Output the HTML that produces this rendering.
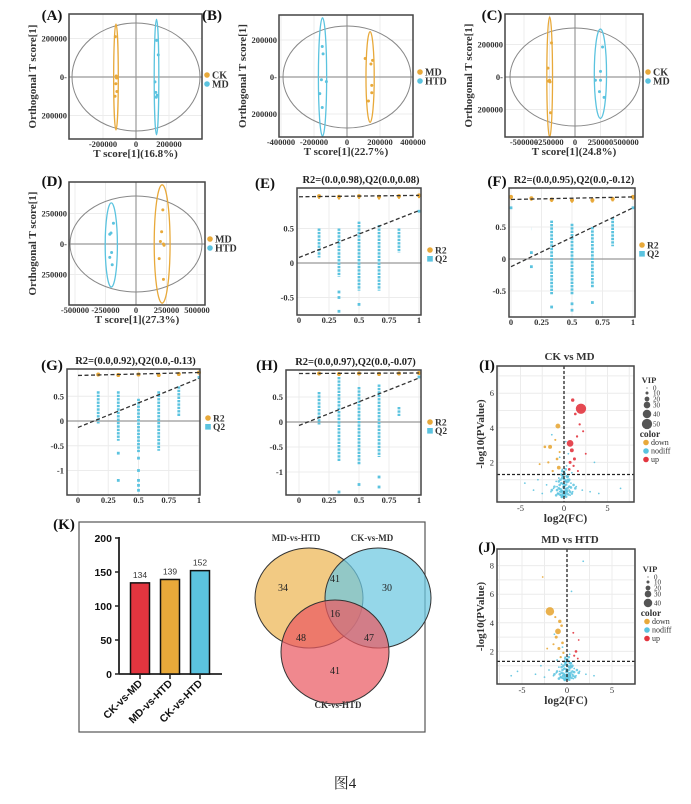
<!DOCTYPE html>
<html><head><meta charset="utf-8">
<style>
html,body{margin:0;padding:0;background:#fff;}
svg{display:block;font-family:"Liberation Serif","Noto Serif CJK SC",serif;}
</style></head>
<body>
<svg id="fig" width="691" height="804" viewBox="0 0 691 804" xmlns="http://www.w3.org/2000/svg">
<rect x="0" y="0" width="691" height="804" fill="#fff"/>
<text x="345" y="788" font-size="15" text-anchor="middle" fill="#222" font-family="Liberation Serif, Noto Serif CJK SC, serif">图4</text>
</svg>
<script>
// ---------- PCA data ----------
const pcaA_g1x=[-125000,-120000,-118000,-122000,-116000,-127000];
const pcaA_g1y=[210000,5000,-5000,-35000,-75000,-100000];
const pcaA_g2x=[125000,135000,115000,120000,128000,123000];
const pcaA_g2y=[190000,115000,-25000,-80000,-95000,-105000];
const pcaB_g1x=[110000,155000,145000,150000,150000,130000];
const pcaB_g1y=[100000,90000,70000,-45000,-85000,-130000];
const pcaB_g2x=[-150000,-145000,-155000,-125000,-165000,-150000];
const pcaB_g2y=[165000,125000,-15000,-25000,-90000,-165000];
const pcaC_g1x=[-230000,-265000,-250000,-260000,-245000,-240000];
const pcaC_g1y=[210000,55000,-20000,-25000,-30000,-220000];
const pcaC_g2x=[270000,250000,200000,250000,240000,285000];
const pcaC_g2y=[185000,35000,-20000,-20000,-90000,-125000];
const pcaD_g1x=[220000,210000,200000,225000,230000,190000,225000];
const pcaD_g1y=[280000,100000,20000,0,-10000,-120000,-290000];
const pcaD_g2x=[-185000,-215000,-205000,-200000,-215000,-195000];
const pcaD_g2y=[170000,80000,90000,-70000,-110000,-170000];

// ---------- permutation data ----------
const permCols=[0.167,0.333,0.5,0.667,0.833];
const permE_top=[0.5,0.5,0.6,0.55,0.5], permE_bot=[0.08,-0.2,-0.4,-0.4,0.15];
const permE_outX=[0.333,0.333,0.333,0.5,1], permE_outY=[-0.42,-0.5,-0.7,-0.6,0.75];
const permE_r2X=[0.167,0.333,0.5,0.667,0.833,1], permE_r2Y=[0.97,0.96,0.97,0.96,0.97,0.98];
const permE_r2Line=[0.96,0.98], permE_q2Line=[0.08,0.76];
const permF_top=[0.47,0.6,0.55,0.5,0.65], permF_bot=[0.47,-0.55,-0.55,-0.45,0.2];
const permF_outX=[0,0.167,0.167,0.333,0.5,0.5,0.667,1], permF_outY=[0.8,0.1,-0.12,-0.75,-0.7,-0.8,-0.68,0.8];
const permF_r2X=[0,0.167,0.333,0.5,0.667,0.833,1], permF_r2Y=[0.97,0.95,0.93,0.92,0.92,0.94,0.97];
const permF_r2Line=[0.93,0.97], permF_q2Line=[-0.12,0.8];
const permG_top=[0.6,0.6,0.45,0.6,0.7], permG_bot=[-0.05,-0.4,-0.65,-0.6,0.1];
const permG_outX=[0.333,0.333,0.5,0.5,0.5,0.5,0.5,1], permG_outY=[-0.65,-1.2,-0.75,-1.0,-1.2,-1.3,-1.4,0.88];
const permG_r2X=[0.167,0.333,0.5,0.667,0.833,1], permG_r2Y=[0.94,0.93,0.94,0.93,0.95,0.98];
const permG_r2Line=[0.92,0.98], permG_q2Line=[-0.13,0.86];
const permH_top=[0.6,0.9,0.7,0.75,0.3], permH_bot=[-0.05,-0.8,-0.85,-0.7,0.12];
const permH_outX=[0.333,0.5,0.667,0.667,1], permH_outY=[-1.4,-1.25,-1.1,-1.3,0.9];
const permH_r2X=[0.167,0.333,0.5,0.667,0.833,1], permH_r2Y=[0.97,0.96,0.97,0.96,0.97,0.98];
const permH_r2Line=[0.97,0.98], permH_q2Line=[-0.07,0.88];

// ---------- volcano data (x=log2FC, y=-log10P, c: 0 down 1 nodiff 2 up, v: VIP) ----------
const volI_x=[1.95,0.7,1.0,1.3,1.8,0.9,1.2,0.7,1.5,2.2,0.6,1.1,2.5,1.6,-0.7,-1.6,-2.2,-0.8,-1.8,-0.6,-1.3,-2.8,-1.0,-0.5,-0.5,0.2,-0.3,0.4,-0.8,0.6,-0.2,0.1,-0.6,0.3,-1.2,1.0,-0.4,0.5,-0.9,0.8,-0.1,0.0,-1.5,1.4,-0.7,0.2,-0.3,0.7,-2.0,2.1,-0.1,0.4,-2.5,3.0,-3.5,4.0,6.5,-4.5,0.9,-1.1,-0.2,0.3,-0.5,0.5,-1.4,0.2,-0.3,0.1,3.5,-3.0];
const volI_y=[5.1,3.1,5.6,4.8,4.2,2.7,2.2,2.0,3.5,3.8,1.6,1.8,2.5,1.5,4.1,2.9,2.9,2.2,2.0,1.7,1.5,1.9,3.3,2.6,0.3,0.5,0.8,1.0,0.6,0.4,1.2,0.2,1.1,0.7,0.5,0.3,0.1,1.2,0.9,0.8,0.6,1.0,0.3,0.6,0.2,0.9,0.4,0.1,0.7,0.4,0.1,0.3,0.2,0.3,0.4,0.2,0.5,0.8,1.4,1.3,1.6,1.8,2.3,2.5,3.6,3.2,0.0,0.05,2.0,1.0];
const volI_c=[2,2,2,2,2,2,2,2,2,2,2,2,2,2,0,0,0,0,0,0,0,0,0,0,1,1,1,1,1,1,1,1,1,1,1,1,1,1,1,1,1,1,1,1,1,1,1,1,1,1,1,1,1,1,1,1,1,1,1,1,1,1,1,1,1,1,1,1,1,1];
const volI_v=[50,30,12,8,6,15,10,10,6,5,8,6,4,5,20,15,8,8,6,14,6,4,5,5,3,3,3,3,3,3,3,3,3,3,3,3,3,3,3,3,3,3,3,3,3,3,3,3,3,3,3,3,3,3,3,3,3,3,3,3,3,3,3,3,3,3,3,3,3,3];
const volJ_x=[-1.9,-0.8,-1.0,-0.6,-1.2,-0.5,-0.9,-1.5,-0.4,-2.2,-2.7,-1.3,-0.7,1.0,0.7,1.3,0.8,1.2,1.8,0.5,-0.5,0.2,-0.3,0.4,-0.8,0.6,-0.2,0.1,-0.6,0.3,-1.2,1.0,-0.4,0.5,-0.9,0.8,-0.1,0.0,-1.5,1.4,-0.7,0.2,-0.3,0.7,-2.0,2.1,-0.1,0.4,-2.5,3.0,-3.5,-5.5,-1.1,-0.2,0.3,-0.5,-1.4,-0.3,0.1,-2.9,-6.2];
const volJ_y=[4.8,4.1,3.4,3.8,3.0,2.6,2.2,2.5,1.9,2.2,7.2,4.4,1.6,2.0,3.3,2.8,1.7,1.5,8.3,6.2,0.3,0.5,0.8,1.0,0.6,0.4,1.2,0.2,1.1,0.7,0.5,0.3,0.1,1.2,0.9,0.8,0.6,1.0,0.3,0.6,0.2,0.9,0.4,0.1,0.7,0.4,0.1,0.3,0.2,0.3,0.4,0.6,1.4,1.6,1.8,2.3,3.2,0.0,0.05,1.0,0.3];
const volJ_c=[0,0,0,0,0,0,0,0,0,0,0,0,0,2,2,2,2,2,1,1,1,1,1,1,1,1,1,1,1,1,1,1,1,1,1,1,1,1,1,1,1,1,1,1,1,1,1,1,1,1,1,1,1,1,1,1,1,1,1,1,1];
const volJ_v=[40,12,25,8,10,8,10,5,6,4,3,5,6,8,4,3,5,4,3,3,3,3,3,3,3,3,3,3,3,3,3,3,3,3,3,3,3,3,3,3,3,3,3,3,3,3,3,3,3,3,3,3,3,3,3,3,3,3,3,3,3];
// dense non-differential cloud near origin
const volCloud_x=[-0.9,-0.7,-0.5,-0.3,-0.1,0.1,0.3,0.5,0.7,0.9,-0.8,-0.6,-0.4,-0.2,0,0.2,0.4,0.6,0.8,-0.5,-0.3,-0.1,0.1,0.3,0.5,-0.4,-0.2,0,0.2,0.4,-0.3,-0.1,0.1,0.3,-0.2,0,0.2,-0.6,0.6,-1.1,1.1,-1.4,1.3,-0.15,0.15,-0.05,0.05,-0.35,0.35,-0.25,0.25];
const volCloud_y=[0.1,0.2,0.15,0.1,0.05,0.1,0.2,0.15,0.3,0.2,0.4,0.5,0.45,0.35,0.3,0.4,0.5,0.6,0.55,0.7,0.8,0.75,0.7,0.85,0.9,1.0,1.1,1.05,0.95,1.15,1.3,1.25,1.35,1.2,1.5,1.45,1.6,0.9,1.0,0.6,0.7,0.4,0.5,0.2,0.25,0.55,0.65,0.3,0.35,0.0,0.02];

// ---------- bar + venn ----------
const barCats=["CK-vs-MD","MD-vs-HTD","CK-vs-HTD"];
const barVals=[134,139,152];
const barTicks=[0,50,100,150,200];
const vennSets=["MD-vs-HTD","CK-vs-MD","CK-vs-HTD"];
const vennCounts=[34,41,30,16,48,47,41];

const NS="http://www.w3.org/2000/svg";
const svg=document.getElementById('fig');
const ORANGE="#E8A93A", CYAN="#5BC3DF", RED="#E2353F";
function mk(p,tag,a){const e=document.createElementNS(NS,tag);for(const k in a)e.setAttribute(k,a[k]);p.appendChild(e);return e;}
function T(p,x,y,s,size,o){o=o||{};const e=mk(p,'text',{x:x,y:y,'font-size':size,'text-anchor':o.anchor||'middle','font-weight':o.w||'bold',fill:o.fill||'#333'});if(o.rot)e.setAttribute('transform','rotate('+o.rot+' '+x+' '+y+')');if(o.font)e.setAttribute('font-family',o.font);e.textContent=s;return e;}

function label(x,y,s){const e=T(svg,x,y,s,15,{fill:'#111'});

}

// ---------- PCA ----------
function pca(c){
 const g=mk(svg,'g',{});
 
 
 const X=v=>c.ox+v*c.sx, Y=v=>c.oy-v*c.sy;
 const fr=mk(g,'rect',{x:c.x0,y:c.y0,width:c.x1-c.x0,height:c.y1-c.y0,fill:'#fff',stroke:'none'});
 
 
 for(const t of c.xt){mk(g,'line',{x1:X(t),x2:X(t),y1:c.y0,y2:c.y1,stroke:'#ececec','stroke-width':1});}
 for(const t of c.yt){mk(g,'line',{x1:c.x0,x2:c.x1,y1:Y(t),y2:Y(t),stroke:'#ececec','stroke-width':1});}
 mk(g,'line',{x1:c.x0,x2:c.x1,y1:Y(0),y2:Y(0),stroke:'#999','stroke-width':1.2});
 mk(g,'line',{x1:X(0),x2:X(0),y1:c.y0,y2:c.y1,stroke:'#999','stroke-width':1.2});
 const ci=mk(g,'ellipse',{cx:c.cx,cy:c.cy,rx:c.rx,ry:c.ry,fill:'none',stroke:'#888','stroke-width':1});
 
 
 c.groups.forEach((gr,i)=>{
  const col=gr.col;
  const mx=gr.x.reduce((a,b)=>a+b,0)/gr.x.length;
  const e=mk(g,'ellipse',{cx:X(mx),cy:Y(gr.ey),rx:gr.hw*c.sx,ry:gr.hh*c.sy,fill:'none',stroke:col,'stroke-width':1.3});
  
  
  gr.x.forEach((v,j)=>{const p=mk(g,'circle',{cx:X(v),cy:Y(gr.y[j]),r:1.5,fill:col});
   
   });
  const lg=mk(g,'circle',{cx:c.lx,cy:c.ly+i*9,r:2.8,fill:col});
  
  
  const lt=T(g,c.lx+5,c.ly+i*9+3.5,gr.n,10,{anchor:'start',fill:'#333'});
  
  
 });
 const b=mk(g,'rect',{x:c.x0,y:c.y0,width:c.x1-c.x0,height:c.y1-c.y0,fill:'none',stroke:'#444','stroke-width':1.5});
 
 
 for(const t of c.xt){const l=T(g,X(t),c.y1+8,String(t),8.5,{fill:'#333'});
  
  }
 for(const t of c.yt){const l=T(g,c.x0-2,Y(t)+3,t===0?'0-':String(Math.abs(t)),8.5,{anchor:'end',fill:'#333'});
  
  }
 const xt=T(g,(c.x0+c.x1)/2,c.y1+18,c.xtitle,11,{fill:'#333'});
 
 
 const yt=T(g,c.x0-33,(c.y0+c.y1)/2,'Orthogonal T score[1]',11,{rot:-90,fill:'#333'});
 
 
}
pca({name:'panel-a-opls-da',x0:69,x1:202,y0:14,y1:139,ox:136,oy:77,sx:33/200000,sy:38.5/200000,cx:136,cy:77,rx:64,ry:54,
 xt:[-200000,0,200000],yt:[200000,0,-200000],xtitle:'T score[1](16.8%)',lx:207,ly:75,
 groups:[{n:'CK',col:ORANGE,x:pcaA_g1x,y:pcaA_g1y,ey:0,hw:14000,hh:275000},{n:'MD',col:CYAN,x:pcaA_g2x,y:pcaA_g2y,ey:0,hw:14000,hh:300000}]});
pca({name:'panel-b-opls-da',x0:279,x1:413,y0:15,y1:137,ox:347,oy:77,sx:33/200000,sy:37/200000,cx:347,cy:77,rx:64,ry:51,
 xt:[-400000,-200000,0,200000,400000],yt:[200000,0,-200000],xtitle:'T score[1](22.7%)',lx:420,ly:72,
 groups:[{n:'MD',col:ORANGE,x:pcaB_g1x,y:pcaB_g1y,ey:0,hw:25000,hh:245000},{n:'HTD',col:CYAN,x:pcaB_g2x,y:pcaB_g2y,ey:0,hw:25000,hh:320000}]});
pca({name:'panel-c-opls-da',x0:505,x1:643,y0:14,y1:137,ox:575,oy:77,sx:51/500000,sy:32.5/200000,cx:575,cy:77,rx:65,ry:49,
 xt:[-500000,-250000,0,250000,500000],yt:[200000,0,-200000],xtitle:'T score[1](24.8%)',lx:648,ly:72,
 groups:[{n:'CK',col:ORANGE,x:pcaC_g1x,y:pcaC_g1y,ey:0,hw:28000,hh:370000},{n:'MD',col:CYAN,x:pcaC_g2x,y:pcaC_g2y,ey:20000,hw:60000,hh:275000}]});
pca({name:'panel-d-opls-da',x0:69,x1:205,y0:182,y1:305,ox:136,oy:244,sx:61/500000,sy:30.5/250000,cx:136,cy:244,rx:66,ry:48,
 xt:[-500000,-250000,0,250000,500000],yt:[250000,0,-250000],xtitle:'T score[1](27.3%)',lx:210,ly:239,
 groups:[{n:'MD',col:ORANGE,x:pcaD_g1x,y:pcaD_g1y,ey:0,hw:65000,hh:485000},{n:'HTD',col:CYAN,x:pcaD_g2x,y:pcaD_g2y,ey:-8000,hw:50000,hh:345000}]});
label(52,20,'(A)');label(212,20,'(B)');label(492,20,'(C)');label(52,186,'(D)');

// ---------- permutation ----------
function perm(c){
 const g=mk(svg,'g',{});
 
 
 const X=v=>c.ox+v*c.sx, Y=v=>c.oy-v*c.sy;
 for(const t of [0,0.25,0.5,0.75,1])mk(g,'line',{x1:X(t),x2:X(t),y1:c.y0,y2:c.y1,stroke:'#ececec'});
 for(const t of c.yt)mk(g,'line',{x1:c.x0,x2:c.x1,y1:Y(t),y2:Y(t),stroke:'#ececec'});
 mk(g,'line',{x1:c.x0,x2:c.x1,y1:Y(0),y2:Y(0),stroke:'#999','stroke-width':1.3});
 permCols.forEach((x,i)=>{const l=mk(g,'line',{x1:X(x),x2:X(x),y1:Y(c.top[i]),y2:Y(c.bot[i]),stroke:CYAN,'stroke-width':2.8,'stroke-dasharray':'2.4 1'});
  
  });
 c.ox2.forEach((x,i)=>{const r=mk(g,'rect',{x:X(x)-1.4,y:Y(c.oy2[i])-1.4,width:2.8,height:2.8,fill:CYAN});
  
  });
 c.r2x.forEach((x,i)=>{const p=mk(g,'circle',{cx:X(x),cy:Y(c.r2y[i]),r:2,fill:ORANGE});
  
  
  mk(g,'line',{x1:X(x),x2:X(x),y1:Y(c.r2y[i]),y2:Y(c.r2y[i]-0.04),stroke:ORANGE,'stroke-width':2});});
 const l1=mk(g,'line',{x1:X(0),x2:X(1),y1:Y(c.r2l[0]),y2:Y(c.r2l[1]),stroke:'#333','stroke-width':1.3,'stroke-dasharray':'4 2.5'});
 
 
 const l2=mk(g,'line',{x1:X(0),x2:X(1),y1:Y(c.q2l[0]),y2:Y(c.q2l[1]),stroke:'#333','stroke-width':1.3,'stroke-dasharray':'4 2.5'});
 
 
 const b=mk(g,'rect',{x:c.x0,y:c.y0,width:c.x1-c.x0,height:c.y1-c.y0,fill:'none',stroke:'#444','stroke-width':1.5});
 
 
 for(const t of [0,0.25,0.5,0.75,1]){const l=T(g,X(t),c.y1+8,String(t),8.5,{});
  
  }
 for(const t of c.yt){const l=T(g,c.x0-3,Y(t)+3,String(t),8.5,{anchor:'end'});
  
  }
 const ti=T(g,(c.x0+c.x1)/2+2,c.y0-5,c.title,10.5,{fill:'#222'});
 
 
 const a=mk(g,'circle',{cx:c.lx,cy:c.ly,r:2.8,fill:ORANGE});
 
 
 const at=T(g,c.lx+5,c.ly+3.5,'R2',9.5,{anchor:'start'});
 
 
 const q=mk(g,'rect',{x:c.lx-2.8,y:c.ly+6,width:5.6,height:5.6,fill:CYAN});
 
 
 const qt=T(g,c.lx+5,c.ly+12,'Q2',9.5,{anchor:'start'});
 
 
}
perm({name:'panel-e-permutation',x0:297,x1:421,y0:188,y1:315,ox:299,oy:263,sx:120,sy:69,yt:[0.5,0,-0.5],
 top:permE_top,bot:permE_bot,ox2:permE_outX,oy2:permE_outY,r2x:permE_r2X,r2y:permE_r2Y,r2l:permE_r2Line,q2l:permE_q2Line,
 title:'R2=(0.0,0.98),Q2(0.0,0.08)',lx:430,ly:250});
perm({name:'panel-f-permutation',x0:509,x1:635,y0:188,y1:317,ox:511,oy:259,sx:122,sy:64,yt:[0.5,0,-0.5],
 top:permF_top,bot:permF_bot,ox2:permF_outX,oy2:permF_outY,r2x:permF_r2X,r2y:permF_r2Y,r2l:permF_r2Line,q2l:permF_q2Line,
 title:'R2=(0.0,0.95),Q2(0.0,-0.12)',lx:642,ly:245});
perm({name:'panel-g-permutation',x0:67,x1:200,y0:369,y1:495,ox:78,oy:421,sx:121,sy:49.5,yt:[0.5,0,-0.5,-1],
 top:permG_top,bot:permG_bot,ox2:permG_outX,oy2:permG_outY,r2x:permG_r2X,r2y:permG_r2Y,r2l:permG_r2Line,q2l:permG_q2Line,
 title:'R2=(0.0,0.92),Q2(0.0,-0.13)',lx:208,ly:418});
perm({name:'panel-h-permutation',x0:286,x1:421,y0:370,y1:495,ox:299,oy:422,sx:120,sy:50,yt:[0.5,0,-0.5,-1],
 top:permH_top,bot:permH_bot,ox2:permH_outX,oy2:permH_outY,r2x:permH_r2X,r2y:permH_r2Y,r2l:permH_r2Line,q2l:permH_q2Line,
 title:'R2=(0.0,0.97),Q2(0.0,-0.07)',lx:430,ly:422});
label(265,188,'(E)');label(497,186,'(F)');label(52,370,'(G)');label(267,370,'(H)');

// ---------- volcano ----------
function volcano(c){
 const g=mk(svg,'g',{});
 
 
 const X=v=>c.ox+v*c.sx, Y=v=>c.oy-v*c.sy;
 const cols=[ORANGE,CYAN,RED];
 for(const t of c.xtg)mk(g,'line',{x1:X(t),x2:X(t),y1:c.y0,y2:c.y1,stroke:'#ececec'});
 for(const t of c.ytg)mk(g,'line',{x1:c.x0,x2:c.x1,y1:Y(t),y2:Y(t),stroke:'#ececec'});
 volCloud_x.forEach((v,i)=>{const p=mk(g,'circle',{cx:X(v),cy:Y(volCloud_y[i]),r:1.3,fill:CYAN,'fill-opacity':0.85});
  
  });
 c.x.forEach((v,i)=>{const p=mk(g,'circle',{cx:X(v),cy:Y(c.y[i]),r:0.6+c.v[i]/11,fill:cols[c.c[i]],'fill-opacity':0.9});
  
  });
 mk(g,'line',{x1:X(0),x2:X(0),y1:c.y0,y2:c.y1,stroke:'#222','stroke-width':1.3,'stroke-dasharray':'3 2'});
 const th=mk(g,'line',{x1:c.x0,x2:c.x1,y1:Y(1.3),y2:Y(1.3),stroke:'#222','stroke-width':1.3,'stroke-dasharray':'3 2'});
 
 
 const b=mk(g,'rect',{x:c.x0,y:c.y0,width:c.x1-c.x0,height:c.y1-c.y0,fill:'none',stroke:'#444','stroke-width':1.5});
 
 
 for(const t of [-5,0,5]){const l=T(g,X(t),c.y1+9,String(t),8.5,{w:'normal'});
  
  }
 for(const t of c.yt){const l=T(g,c.x0-3,Y(t)+3,String(t),8.5,{anchor:'end',w:'normal'});
  
  }
 const ti=T(g,(c.x0+c.x1)/2+4,c.y0-6,c.title,11,{fill:'#333'});
 
 
 const xt=T(g,(c.x0+c.x1)/2,c.y1+20,'log2(FC)',11.5,{});
 
 
 const yt=T(g,c.x0-13,(c.y0+c.y1)/2,'-log10(PValue)',11,{rot:-90});
 
 
 const lx=c.x1+13;
 const vt=T(g,lx+2,c.ly,'VIP',8.5,{});
 
 
 c.vipLeg.forEach((v,i)=>{const yy=c.ly+4+c.vipDy[i];
  mk(g,'circle',{cx:lx,cy:yy,r:0.6+v/11,fill:'#555'});
  const t=T(g,lx+6,yy+2.5,String(v),7,{anchor:'start',w:'normal'});
  
  });
 const ct=T(g,lx+3,c.cy,'color',9.5,{});
 
 
 ['down','nodiff','up'].forEach((n,i)=>{const yy=c.cy+8+i*8.5;
  const m=mk(g,'circle',{cx:lx-1,cy:yy-2.5,r:2.8,fill:cols[i]});
  
  
  const t=T(g,lx+4,yy,n,8,{anchor:'start',w:'normal'});
  
  });
}
volcano({name:'panel-i-volcano',title:'CK vs MD',x0:497,x1:634,y0:366,y1:502,ox:564,oy:497,sx:8.7,sy:17.3,
 xtg:[-7.5,-5,-2.5,0,2.5,5,7.5],ytg:[1,2,3,4,5,6,7],yt:[2,4,6],x:volI_x,y:volI_y,c:volI_c,v:volI_v,
 ly:383,vipLeg:[0,10,20,30,40,50],vipDy:[1,6,12,18,27,37],cy:437});
volcano({name:'panel-j-volcano',title:'MD vs HTD',x0:497,x1:635,y0:549,y1:684,ox:567,oy:680,sx:9,sy:14.3,
 xtg:[-7.5,-5,-2.5,0,2.5,5,7.5],ytg:[1,2,3,4,5,6,7,8],yt:[2,4,6,8],x:volJ_x,y:volJ_y,c:volJ_c,v:volJ_v,
 ly:572,vipLeg:[0,10,20,30,40],vipDy:[1,6,12,18,27],cy:616});
label(487,370,'(I)');label(487,552,'(J)');

// ---------- K: bar chart ----------
(function(){
 const g=mk(svg,'g',{});
 
 
 const box=mk(g,'rect',{x:79,y:522,width:346,height:210,fill:'#fff',stroke:'#555','stroke-width':1.2});
 
 
 const Y=v=>674-v*0.68, X=i=>140+i*30;
 const sans='Liberation Sans, sans-serif';
 mk(g,'line',{x1:119,x2:119,y1:537,y2:674,stroke:'#222','stroke-width':1.8});
 mk(g,'line',{x1:119,x2:222,y1:674,y2:674,stroke:'#222','stroke-width':1.8});
 barTicks.forEach(t=>{mk(g,'line',{x1:115,x2:119,y1:Y(t),y2:Y(t),stroke:'#222','stroke-width':1.5});
  const l=T(g,112,Y(t)+4,String(t),10.5,{anchor:'end',fill:'#111',font:sans});
  
  });
 const bc=[RED,ORANGE,CYAN];
 barVals.forEach((v,i)=>{const r=mk(g,'rect',{x:X(i)-9.5,y:Y(v),width:19,height:674-Y(v),fill:bc[i],stroke:'#111','stroke-width':1.5});
  
  
  const vl=T(g,X(i),Y(v)-5,String(v),8.5,{w:'normal',fill:'#333',font:sans});
  
  
  mk(g,'line',{x1:X(i),x2:X(i),y1:674,y2:679,stroke:'#222','stroke-width':1.5});
  const cl=T(g,X(i)+3,684,barCats[i],10.5,{anchor:'end',fill:'#111',rot:-45,font:sans});
  
  });
 // venn
 const vc=[{cx:309,cy:598,rx:54,ry:50,f:'#EDB553'},{cx:378,cy:598,rx:53,ry:50,f:'#6CC8E0'},{cx:335,cy:652,rx:54,ry:52,f:'#EA5A62'}];
 vc.forEach((c,i)=>{const e=mk(g,'ellipse',{cx:c.cx,cy:c.cy,rx:c.rx,ry:c.ry,fill:c.f,'fill-opacity':0.72,stroke:'#333','stroke-width':1});
  
  });
 const lp=[[296,541],[372,541],[338,708]];
 vennSets.forEach((s,i)=>{const t=T(g,lp[i][0],lp[i][1],s,9,{fill:'#333'});
  
  });
 const np=[[283,591],[335,582],[387,591],[335,617],[301,641],[369,641],[335,674]];
 vennCounts.forEach((n,i)=>{const t=T(g,np[i][0],np[i][1],String(n),10,{w:'normal',fill:'#222'});
  
  });
})();
label(64,529,'(K)');
</script>
</body></html>
